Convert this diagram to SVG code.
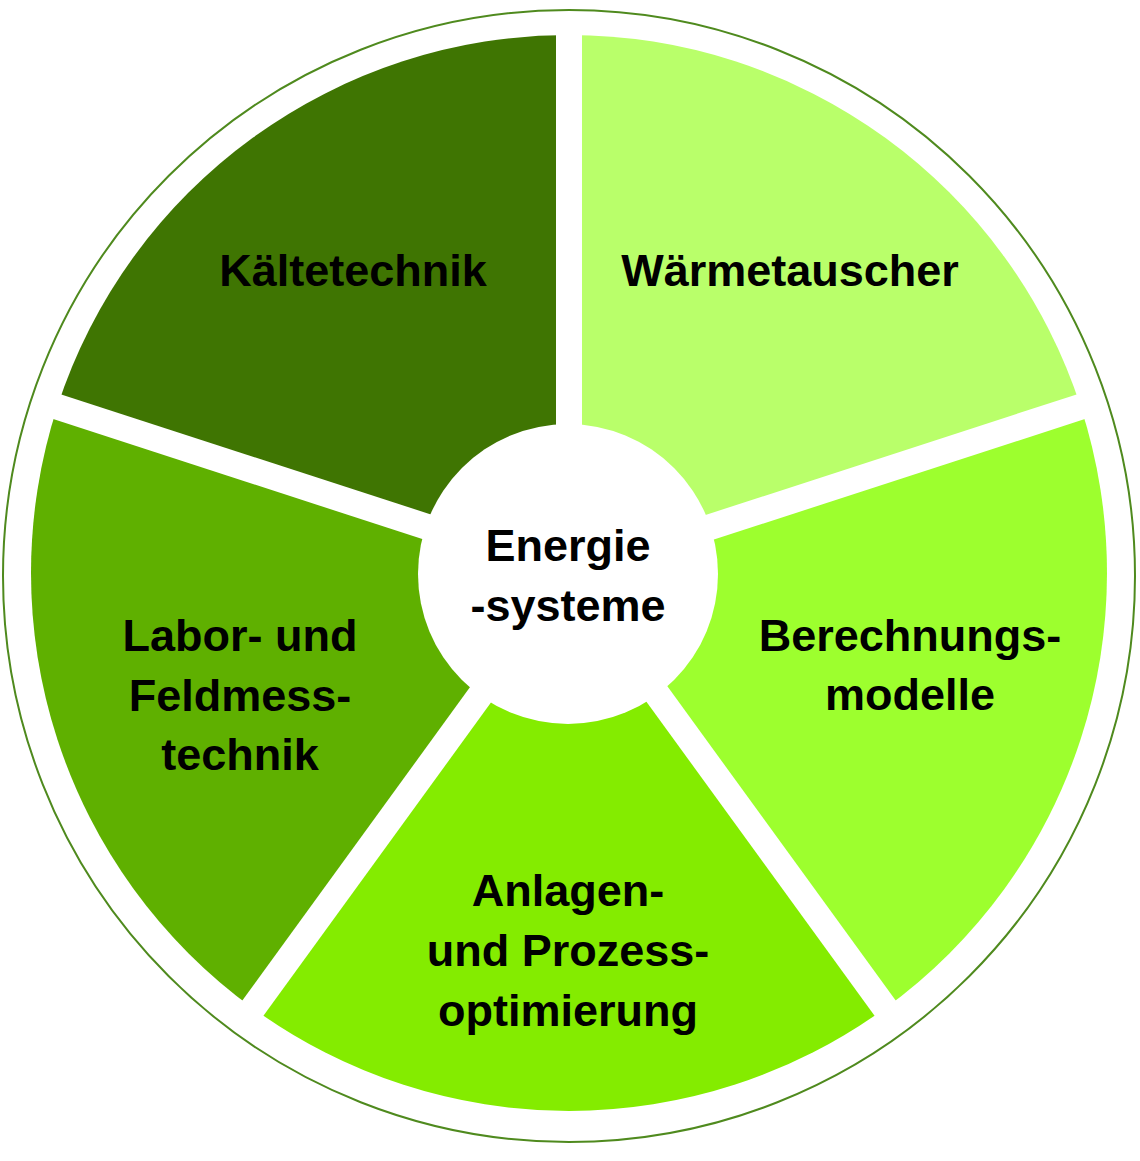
<svg xmlns="http://www.w3.org/2000/svg" width="1140" height="1161" viewBox="0 0 1140 1161">
<style>
.t{font-family:"Liberation Sans",Arial,sans-serif;font-weight:bold;font-size:45px;fill:#000;text-anchor:middle}
.sep{stroke:#fff;stroke-width:26}
</style>
<rect width="1140" height="1161" fill="#fff"/>
<circle cx="569" cy="576" r="566" fill="#fff" stroke="#4f8a1e" stroke-width="2"/>
<g id="kaelte"><path d="M569,573 L57.3,406.8 A538,538 0 0 1 569,35 Z" fill="#3f7502"/></g>
<g id="waerme"><path d="M569,573 L569,35 A538,538 0 0 1 1080.7,406.8 Z" fill="#b9ff6a"/></g>
<g id="berechnung"><path d="M569,573 L1080.7,406.8 A538,538 0 0 1 885.2,1008.2 Z" fill="#9dff2e"/></g>
<g id="anlagen"><path d="M569,573 L885.2,1008.2 A538,538 0 0 1 252.8,1008.2 Z" fill="#84ec00"/></g>
<g id="labor"><path d="M569,573 L252.8,1008.2 A538,538 0 0 1 57.3,406.8 Z" fill="#5fb000"/></g>
<g id="separators">
<line class="sep" x1="569" y1="573" x2="569" y2="20"/>
<line class="sep" x1="569" y1="573" x2="1100" y2="400.5"/>
<line class="sep" x1="569" y1="573" x2="897" y2="1024.5"/>
<line class="sep" x1="569" y1="573" x2="241" y2="1024.5"/>
<line class="sep" x1="569" y1="573" x2="38" y2="400.5"/>
</g>
<g id="center"><circle cx="568" cy="574" r="150" fill="#fff"/>
<text class="t" x="568" y="561">Energie</text><text class="t" x="568" y="621">-systeme</text></g>
<text class="t" x="353" y="286">Kältetechnik</text>
<text class="t" x="790" y="286">Wärmetauscher</text>
<text class="t" x="240" y="651">Labor- und</text>
<text class="t" x="240" y="711">Feldmess-</text>
<text class="t" x="240" y="770">technik</text>
<text class="t" x="910" y="651">Berechnungs-</text>
<text class="t" x="910" y="710">modelle</text>
<text class="t" x="568" y="906">Anlagen-</text>
<text class="t" x="568" y="966">und Prozess-</text>
<text class="t" x="568" y="1026">optimierung</text>
</svg>
